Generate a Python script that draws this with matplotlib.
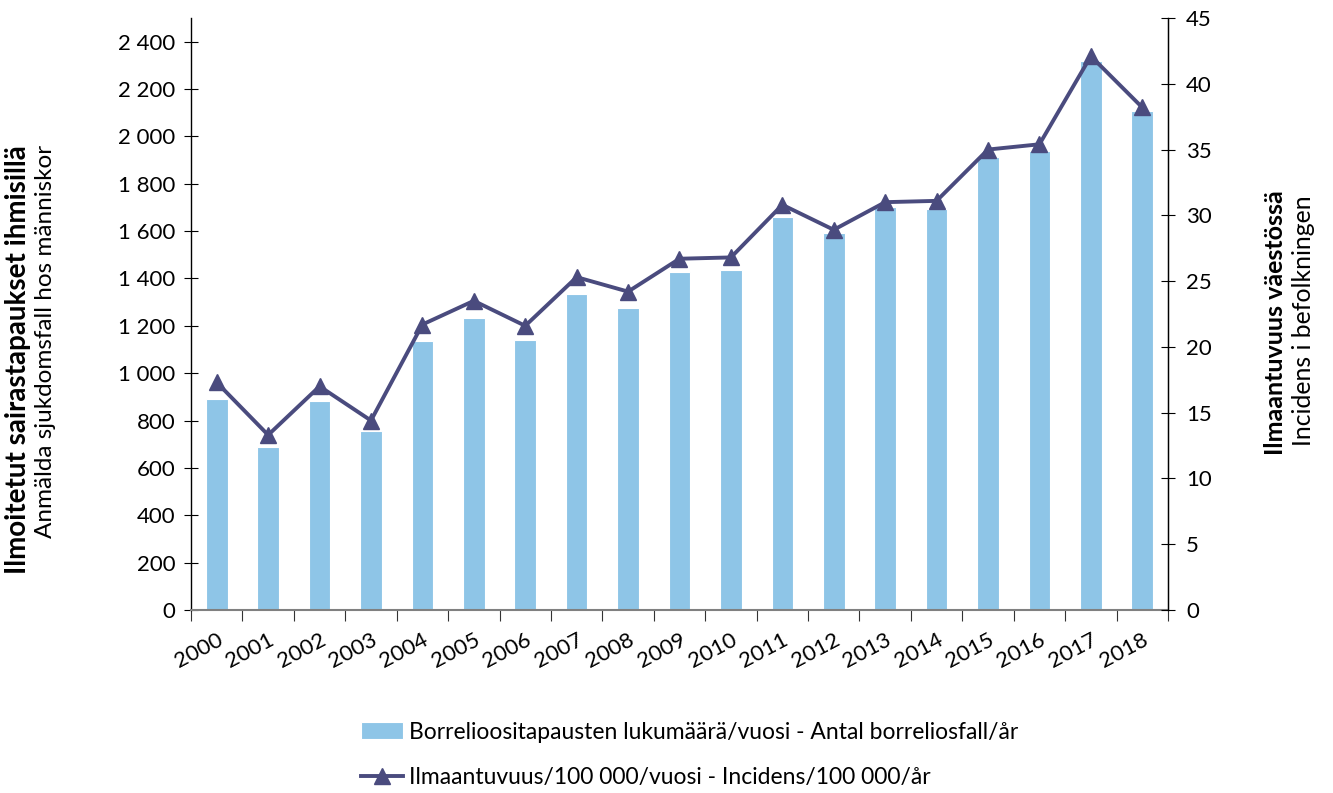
import matplotlib
matplotlib.use('Agg')
import matplotlib.pyplot as plt
from matplotlib.ticker import FuncFormatter, MultipleLocator

years = ['2000', '2001', '2002', '2003', '2004', '2005', '2006', '2007', '2008', '2009',
         '2010', '2011', '2012', '2013', '2014', '2015', '2016', '2017', '2018']
cases = [893, 690, 884, 755, 1136, 1233, 1140, 1333, 1275, 1427,
         1435, 1660, 1590, 1700, 1695, 1915, 1940, 2320, 2107]
incidence = [17.3, 13.3, 17.0, 14.4, 21.7, 23.5, 21.6, 25.3, 24.2, 26.7,
             26.8, 30.8, 28.9, 31.0, 31.1, 35.0, 35.4, 42.1, 38.2]

bar_label = 'Borrelioositapausten lukumäärä/vuosi - Antal borreliosfall/år'
line_label = 'Ilmaantuvuus/100 000/vuosi - Incidens/100 000/år'

plt.rcParams['font.family'] = ['Lato', 'DejaVu Sans']
bar_color = '#8EC5E7'
line_color = '#4A4B7E'

fig = plt.figure(figsize=(13.33, 7.93), dpi=100)
ax = fig.add_axes([0.1433, 0.2308, 0.8762 - 0.1433, 0.9773 - 0.2308])
ax2 = ax.twinx()

x = list(range(len(years)))
bars = ax.bar(x, cases, width=0.42, color=bar_color, edgecolor='white', linewidth=0.8,
              label=bar_label, zorder=2)
line, = ax2.plot(x, incidence, color=line_color, linewidth=2.8, marker='^', markersize=11,
                 label=line_label, zorder=3)

ax.set_xlim(-0.5, len(years) - 0.5)
ax.set_ylim(0, 2500)
ax2.set_ylim(0, 45)
ax.yaxis.set_major_locator(MultipleLocator(200))
ax2.yaxis.set_major_locator(MultipleLocator(5))
ax.yaxis.set_major_formatter(FuncFormatter(lambda v, p: '{:,.0f}'.format(v).replace(',', ' ')))

# ticks on category boundaries, labels at centres
ax.set_xticks([i - 0.5 for i in range(len(years) + 1)])
ax.set_xticklabels([])
ax.set_xticks(x, minor=True)
ax.set_xticklabels(years, minor=True, rotation=28, ha='right', rotation_mode='anchor', fontsize=16)
ax.tick_params(axis='x', which='minor', length=0, pad=14)
ax.tick_params(axis='x', which='major', length=8, direction='out', color='#333333')

ax.tick_params(axis='y', direction='inout', length=10, labelsize=16, pad=6)
ax2.tick_params(axis='y', direction='inout', length=10, labelsize=16, pad=8)

for a in (ax, ax2):
    a.spines['top'].set_visible(False)
ax.spines['bottom'].set_color('#808080')
ax.spines['bottom'].set_linewidth(1.5)
ax.spines['left'].set_linewidth(1.0)
ax2.spines['right'].set_linewidth(1.0)
ax2.spines['left'].set_visible(False)
ax2.spines['bottom'].set_visible(False)
ax2.patch.set_visible(False)

fig.text(0.0135, 0.817, 'Ilmoitetut sairastapaukset ihmisillä', rotation=90, fontsize=20,
         fontweight='bold', ha='center', va='top')
fig.text(0.034, 0.817, 'Anmälda sjukdomsfall hos människor', rotation=90, fontsize=17.5,
         ha='center', va='top')
fig.text(0.9565, 0.760, 'Ilmaantuvuus väestössä', rotation=90, fontsize=18,
         fontweight='bold', ha='center', va='top')
fig.text(0.9775, 0.754, 'Incidens i befolkningen', rotation=90, fontsize=17.8,
         ha='center', va='top')

fig.legend(handles=[bars, line], loc='center left', bbox_to_anchor=(0.2708, 0.0485),
           frameon=False, fontsize=16.5, labelspacing=1.05, handlelength=1.85,
           handletextpad=0.25, borderaxespad=0, borderpad=0)

fig.savefig('out.png', dpi=100)
